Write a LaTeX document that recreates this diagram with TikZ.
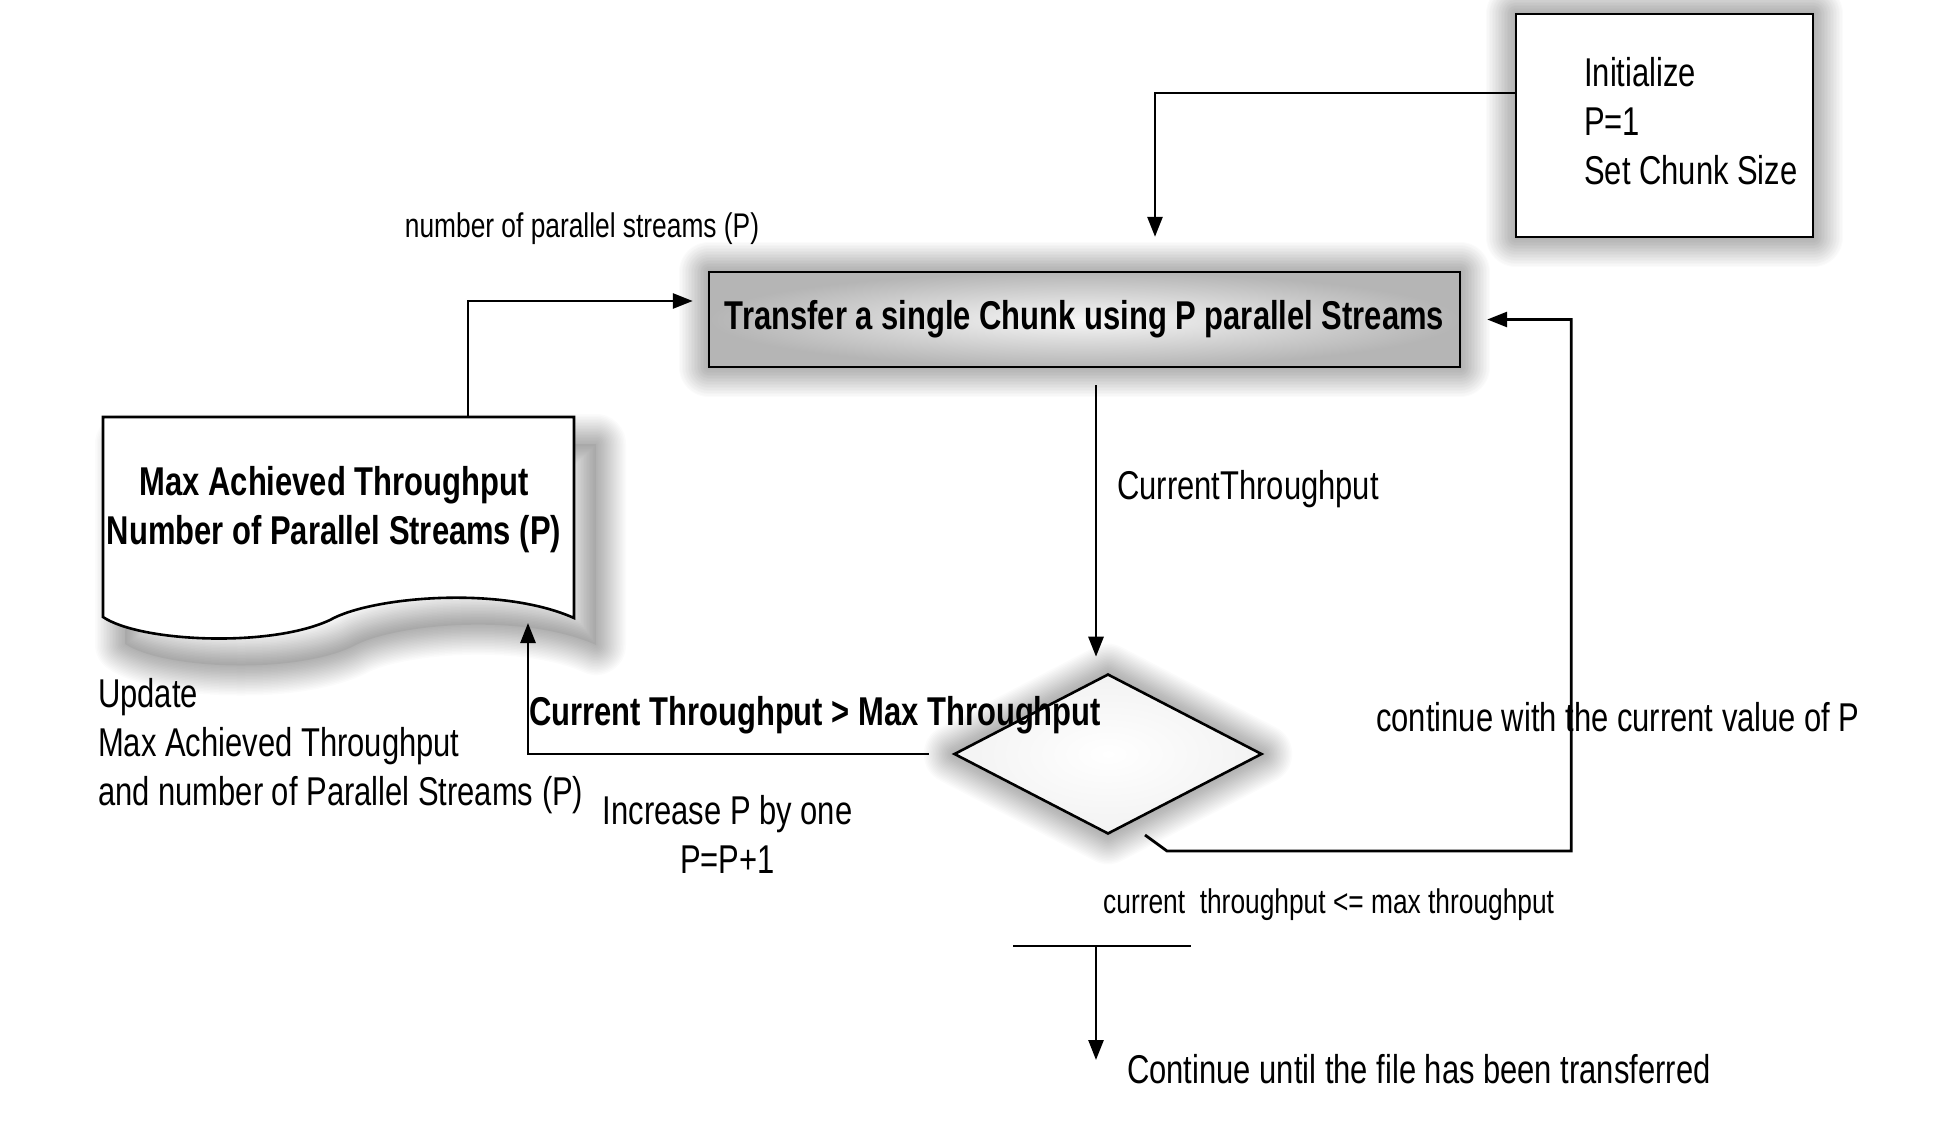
\documentclass[tikz,border=0pt]{standalone}
\usepackage{fontspec}
\setmainfont{Liberation Sans}[FakeStretch=0.77]
\usetikzlibrary{arrows.meta,shapes.geometric,calc}
\begin{document}
\begin{tikzpicture}[x=1pt,y=-1pt,
  arr/.style={line width=2.8pt,-{Triangle[length=20pt,width=15pt]}},
  ln/.style={line width=2.8pt},
  txt/.style={inner sep=0pt,font=\fontsize{40.2pt}{49pt}\selectfont},
  smalltxt/.style={inner sep=0pt,font=\fontsize{34.2pt}{40pt}\selectfont},
  boldtxt/.style={inner sep=0pt,font=\fontsize{40.2pt}{49pt}\selectfont\bfseries},
  shadstroke/.style={black,opacity=0.016,line join=round},
  shadfill/.style={black,opacity=0.05}
]
\useasboundingbox (0,0) rectangle (1937,1126);
\fill[white] (0,0) rectangle (1937,1126);

% node geometry (invisible placeholders for shadows first)
\path (1664.5,125.5) node[minimum width=297pt,minimum height=223pt,inner sep=0pt] (init) {};
\path (1084.5,319.5) node[minimum width=751pt,minimum height=95pt,inner sep=0pt] (transfer) {};
\path (1108,754) node[diamond,minimum width=308pt,minimum height=160pt,inner sep=0pt] (dia) {};

% soft shadows
\newcommand\docshape{(103,617) -- (103,417) -- (574,417) -- (574,618)
  .. controls (500,585) and (370,597) .. (330,620)
  .. controls (270,648) and (140,642) .. (103,617) -- cycle}
\begin{scope}[shift={(22,27)}]
  \foreach \w in {3,6,...,60} {
    \draw[shadstroke,line width=\w pt] (init.north west) rectangle (init.south east);
    \draw[shadstroke,line width=\w pt] (transfer.north west) rectangle (transfer.south east);
    \draw[shadstroke,line width=\w pt] (dia.north) -- (dia.east) -- (dia.south) -- (dia.west) -- cycle;
    \draw[shadstroke,line width=\w pt] \docshape;
  }
  \fill[shadfill] (init.north west) rectangle (init.south east);
  \fill[shadfill] (transfer.north west) rectangle (transfer.south east);
  \fill[shadfill] (dia.north) -- (dia.east) -- (dia.south) -- (dia.west) -- cycle;
  \fill[shadfill] \docshape;
\end{scope}

% Initialize box
\node[draw,line width=2.6pt,fill=white,minimum width=297pt,minimum height=223pt,inner sep=0pt] (init) at (1664.5,125.5) {};
\node[txt,align=left,anchor=west] (inittxt) at (1584,121) {Initialize\\P=1\\Set Chunk Size};

% Transfer box
\node[draw,line width=2.4pt,inner color=gray!6,outer color=gray!58,minimum width=751pt,minimum height=95pt,boldtxt] (transfer) at (1084.5,319.5) {Transfer a single Chunk using P parallel Streams};

% Document shape
\path[draw,line width=2.6pt,fill=white] \docshape;
\coordinate (doctop) at (468,417);
\coordinate (docin) at (528,623);
\node[boldtxt,align=center] (doc) at (334,510) {Max Achieved Throughput\\Number of Parallel Streams (P)};

% Decision diamond
\node[diamond,draw,line width=2.6pt,inner color=white,outer color=gray!10,minimum width=308pt,minimum height=160pt,inner sep=0pt] (dia) at (1108,754) {};

% Connectors
\draw[arr,shorten >=34pt] (init.west |- 0,93) -| (transfer.north -| 1155,0);
\draw[arr,shorten >=15pt] (doctop) |- ([yshift=18.5pt]transfer.west);
\draw[arr,shorten <=17pt,shorten >=16pt] (transfer.south -| 1096,0) -- (dia.north -| 1096,0);
\draw[arr,shorten <=24pt] (dia.west) -| (docin);
\coordinate (loopstart) at (1145,835);
\draw[arr,shorten >=26pt] (loopstart) -- ++(22,16) -| ([xshift=110pt]transfer.east) -- (transfer.east);

% End bar
\coordinate (barL) at (1013,946);
\coordinate (barR) at (1191,946);
\coordinate (barmid) at (1096,946);
\coordinate (endtip) at (1096,1060);
\draw[ln] (barL) -- (barR);
\draw[arr] (barmid) -- (endtip);

% Labels
\node[smalltxt] (lblp) at (582,229) {number of parallel streams (P)};
\node[txt,anchor=west] (lblct) at (1117,489) {CurrentThroughput};
\node[boldtxt,anchor=west] (lblgt) at (529,715) {Current Throughput > Max Throughput};
\node[txt,align=center] (lblinc) at (727.5,834) {Increase P by one\\P=P+1};
\node[txt,align=left,anchor=west] (lblupd) at (98,746) {Update\\Max Achieved Throughput\\and number of Parallel Streams (P)};
\node[txt,anchor=west] (lblcont) at (1376,717) {continue with the current value of P};
\node[smalltxt,anchor=west] (lblle) at (1103,905) {current\ \ throughput <= max throughput};
\node[txt,anchor=west] (lblend) at (1127,1069) {Continue until the file has been transferred};
\end{tikzpicture}
\end{document}
